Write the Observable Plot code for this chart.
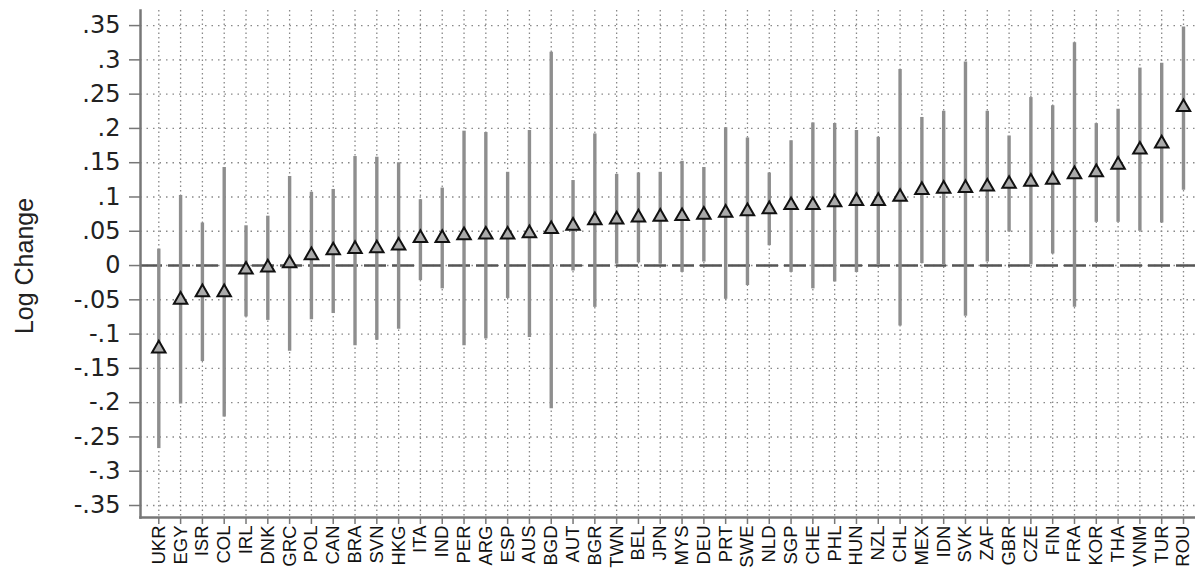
<!DOCTYPE html>
<html><head><meta charset="utf-8">
<script src="https://cdn.jsdelivr.net/npm/d3@7"></script>
<script src="https://cdn.jsdelivr.net/npm/@observablehq/plot@0.6"></script>
<style>body{margin:0;background:#fff}#chart{width:1195px;height:570px}</style>
</head><body><div id="chart"></div>
<script>
const countries = ["UKR","EGY","ISR","COL","IRL","DNK","GRC","POL","CAN","BRA","SVN","HKG","ITA","IND","PER","ARG","ESP","AUS","BGD","AUT","BGR","TWN","BEL","JPN","MYS","DEU","PRT","SWE","NLD","SGP","CHE","PHL","HUN","NZL","CHL","MEX","IDN","SVK","ZAF","GBR","CZE","FIN","FRA","KOR","THA","VNM","TUR","ROU"];
const estimates = [-0.121,-0.050,-0.039,-0.039,-0.006,-0.003,0.003,0.015,0.022,0.024,0.025,0.029,0.040,0.040,0.044,0.045,0.045,0.047,0.053,0.058,0.066,0.067,0.070,0.071,0.072,0.074,0.077,0.079,0.082,0.088,0.088,0.092,0.094,0.094,0.100,0.110,0.112,0.113,0.115,0.119,0.122,0.125,0.133,0.136,0.147,0.169,0.178,0.231];
const upper = [0.024,0.102,0.062,0.143,0.058,0.072,0.130,0.107,0.111,0.159,0.158,0.150,0.096,0.113,0.196,0.194,0.136,0.197,0.311,0.124,0.192,0.133,0.135,0.136,0.152,0.143,0.201,0.186,0.135,0.182,0.208,0.207,0.197,0.187,0.286,0.216,0.225,0.297,0.225,0.189,0.245,0.233,0.325,0.207,0.228,0.288,0.295,0.348];
const lower = [-0.267,-0.202,-0.140,-0.221,-0.075,-0.080,-0.125,-0.079,-0.070,-0.117,-0.109,-0.093,-0.022,-0.034,-0.117,-0.107,-0.048,-0.105,-0.209,-0.008,-0.061,0.002,0.004,0.002,-0.010,0.005,-0.049,-0.029,0.029,-0.010,-0.034,-0.024,-0.010,0.000,-0.088,0.003,0.000,-0.074,0.005,0.049,0.001,0.017,-0.061,0.063,0.063,0.050,0.062,0.110];
const yTicks = [-0.35,-0.3,-0.25,-0.2,-0.15,-0.1,-0.05,0,0.05,0.1,0.15,0.2,0.25,0.3,0.35];
const yTickLabels = ["-.35","-.3","-.25","-.2","-.15","-.1","-.05","0",".05",".1",".15",".2",".25",".3",".35"];
const yTitle = "Log Change";

const data = countries.map((c, i) => ({country: c, est: estimates[i], lo: lower[i], hi: upper[i]}));

const plot = Plot.plot({
  width: 1195, height: 570,
  marginLeft: 140, marginRight: 0, marginTop: 10, marginBottom: 53,
  style: {background: "#fff", fontFamily: "'Liberation Sans', Arial, sans-serif", color: "#111"},
  x: {type: "point", domain: countries, range: [158.3, 1183], padding: 0},
  y: {domain: [-0.3675, 0.372]},
  marks: [
    Plot.gridY(yTicks, {stroke: "#888", strokeOpacity: 1, strokeWidth: 1.4, strokeDasharray: "1.5,5"}),
    Plot.gridX(countries, {stroke: "#888", strokeOpacity: 1, strokeWidth: 1.3, strokeDasharray: "1.5,3"}),
    Plot.ruleY([0], {stroke: "#555", strokeWidth: 2.5, strokeDasharray: "22,6"}),
    Plot.ruleX(data, {x: "country", y1: "lo", y2: "hi", stroke: "#8e8e8e", strokeWidth: 3.4}),
    Plot.dot(data, {x: "country", y: "est", symbol: "triangle", r: 5, stroke: "#111", strokeWidth: 2, fill: "#aaa"}),
    Plot.frame({anchor: "left", stroke: "#777", strokeWidth: 2.5}),
    Plot.frame({anchor: "bottom", stroke: "#777", strokeWidth: 2.5}),
    Plot.axisY(yTicks, {tickFormat: d => yTickLabels[yTicks.indexOf(d)], tickSize: 11, tickPadding: 9, fontSize: 24, fontFamily: "'DejaVu Sans', sans-serif", stroke: "#777", strokeWidth: 1.5, fill: "#222", label: null}),
    Plot.axisX({tickRotate: -90, tickSize: 7, tickPadding: 1, fontSize: 18.5, stroke: "#777", strokeWidth: 1.5, fill: "#111", label: null}),
    Plot.text([yTitle], {frameAnchor: "left", dx: -116, dy: 2, rotate: -90, fontSize: 25, fill: "#222", textAnchor: "middle"})
  ]
});
document.getElementById("chart").appendChild(plot);
</script>
</body></html>
